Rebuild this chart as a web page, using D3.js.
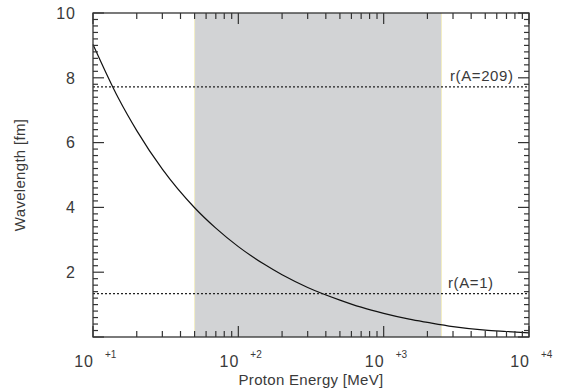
<!DOCTYPE html>
<html><head><meta charset="utf-8">
<script src="https://cdn.jsdelivr.net/npm/d3@7"></script>
<style>body{margin:0;background:#fff}svg text{font-family:"Liberation Sans",Arial,sans-serif;fill:#3a3a3a}</style>
</head><body><svg id="c" width="562" height="389"></svg>
<script>
const energy = [10, 15, 20, 30, 50, 70, 100, 150, 200, 300, 500, 700, 1000, 1500, 2000, 3000, 5000, 7000, 10000];
const wavelength = [9.03, 7.36, 6.37, 5.18, 3.99, 3.36, 2.79, 2.25, 1.92, 1.53, 1.14, 0.92, 0.73, 0.55, 0.45, 0.32, 0.21, 0.17, 0.13];
const band = [50, 2500];
const radii = [{label: "r(A=209)", value: 7.72}, {label: "r(A=1)", value: 1.34}];
const xDecades = [1, 2, 3, 4];
const yTickLabels = [2, 4, 6, 8, 10];

const svg = d3.select("#c");
const L = 93, R = 529, T = 13, B = 337;
const x = d3.scaleLog().domain([10, 10000]).range([L, R]);
const y = d3.scaleLinear().domain([0, 10]).range([B, T]);

// band
svg.append("rect").attr("x", x(band[0])).attr("y", T).attr("width", x(band[1]) - x(band[0])).attr("height", B - T).attr("fill", "#d2d3d5");
band.forEach(b => svg.append("line").attr("x1", x(b)).attr("x2", x(b)).attr("y1", T).attr("y2", B).attr("stroke", "#f3eec4").attr("stroke-width", 1));

// dotted lines
radii.forEach(r => {
  svg.append("line").attr("x1", L).attr("x2", R).attr("y1", y(r.value)).attr("y2", y(r.value))
    .attr("stroke", "#222").attr("stroke-width", 1.2).attr("stroke-dasharray", "2,2");
});
svg.append("text").attr("x", 450).attr("y", y(radii[0].value) - 6).attr("font-size", 15).attr("letter-spacing", 0.6).text(radii[0].label);
svg.append("text").attr("x", 448).attr("y", y(radii[1].value) - 6).attr("font-size", 15).attr("letter-spacing", 0.6).text(radii[1].label);

// curve
const pts = energy.map((e, i) => [e, wavelength[i]]);
svg.append("path").datum(pts).attr("fill", "none").attr("stroke", "#111").attr("stroke-width", 1.2)
  .attr("d", d3.line().x(d => x(d[0])).y(d => y(d[1])).curve(d3.curveMonotoneX));

// x ticks
const xMinor = [], xMajor = [];
for (let d = 1; d <= 4; d++) { xMajor.push(Math.pow(10, d)); if (d < 4) for (let m = 2; m <= 9; m++) xMinor.push(m * Math.pow(10, d)); }
const tk = svg.append("g").attr("stroke", "#333").attr("stroke-width", 1.2);
xMinor.forEach(v => {
  tk.append("line").attr("x1", x(v)).attr("x2", x(v)).attr("y1", B).attr("y2", B - 6);
  tk.append("line").attr("x1", x(v)).attr("x2", x(v)).attr("y1", T).attr("y2", T + 6);
});
xMajor.forEach(v => {
  tk.append("line").attr("x1", x(v)).attr("x2", x(v)).attr("y1", B).attr("y2", B - 11);
  tk.append("line").attr("x1", x(v)).attr("x2", x(v)).attr("y1", T).attr("y2", T + 11);
});
// y ticks
for (let i = 0; i <= 50; i++) {
  const v = i * 0.2, major = (i % 10 === 0);
  const len = major ? 11 : 5;
  tk.append("line").attr("x1", L).attr("x2", L + len).attr("y1", y(v)).attr("y2", y(v));
  tk.append("line").attr("x1", R).attr("x2", R - len).attr("y1", y(v)).attr("y2", y(v));
}
// frame
svg.append("rect").attr("x", L).attr("y", T).attr("width", R - L).attr("height", B - T).attr("fill", "none").attr("stroke", "#333").attr("stroke-width", 1.3);

// x labels
xDecades.forEach(d => {
  const g = svg.append("g");
  g.append("text").attr("x", x(Math.pow(10, d)) + 1).attr("y", 367).attr("text-anchor", "end").attr("font-size", 16).attr("letter-spacing", 1).text("10");
  g.append("text").attr("x", x(Math.pow(10, d)) + 12).attr("y", 358).attr("font-size", 10).text("+" + d);
});
// y labels
yTickLabels.forEach(v => {
  svg.append("text").attr("x", 76).attr("y", y(v)).attr("dy", "0.36em").attr("text-anchor", "end").attr("font-size", 16).attr("letter-spacing", 1).text(v);
});
// titles
svg.append("text").attr("x", (L + R) / 2).attr("y", 385).attr("text-anchor", "middle").attr("font-size", 15).attr("letter-spacing", 0.3).text("Proton Energy [MeV]");
svg.append("text").attr("transform", `translate(25,${(T + B) / 2}) rotate(-90)`).attr("text-anchor", "middle").attr("font-size", 15).attr("letter-spacing", 0.3).text("Wavelength [fm]");
</script></body></html>
